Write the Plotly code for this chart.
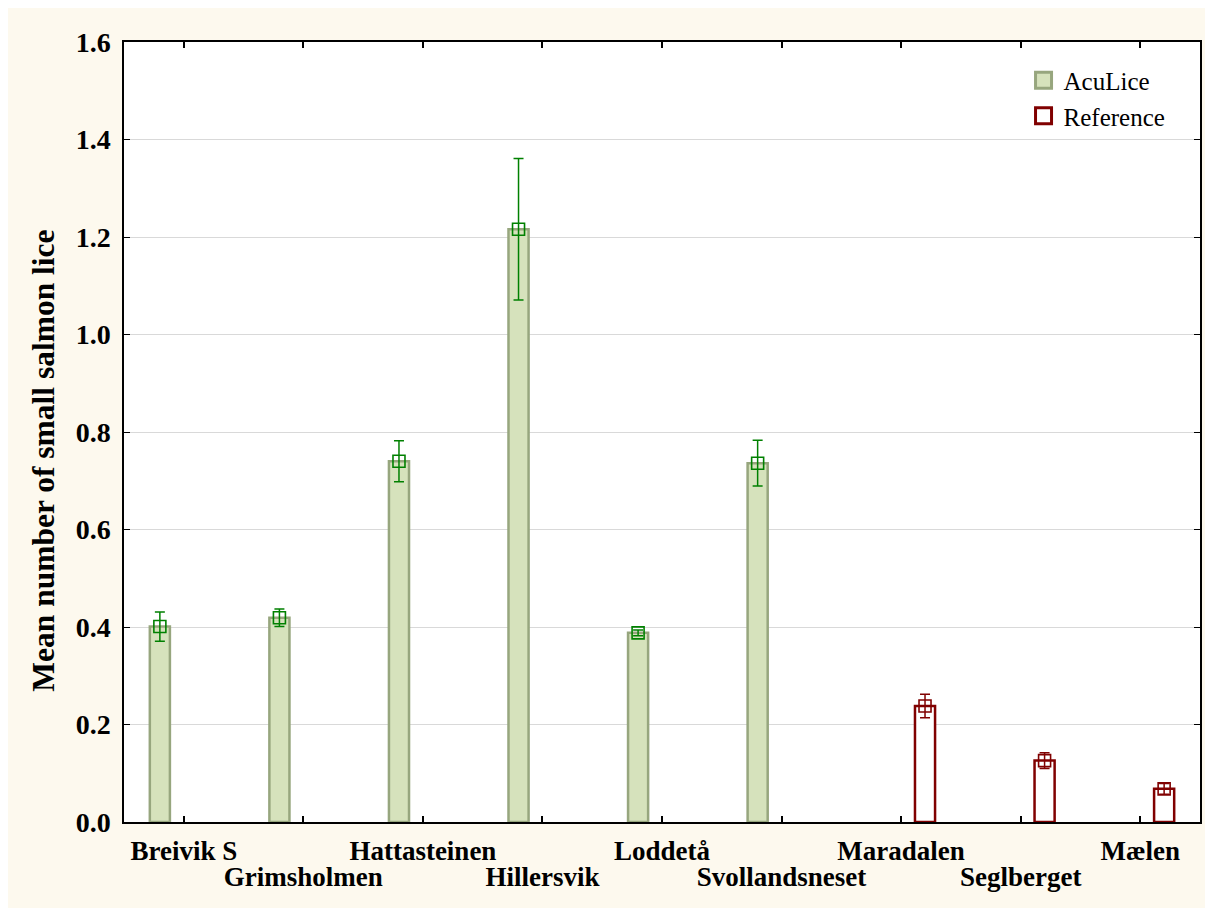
import plotly.graph_objects as go

sites = ["Breivik S", "Grimsholmen", "Hattasteinen", "Hillersvik", "Loddetå",
         "Svollandsneset", "Maradalen", "Seglberget", "Mælen"]
aculice_mean = [0.401, 0.419, 0.740, 1.216, 0.388, 0.736, None, None, None]
aculice_err = [0.030, 0.018, 0.042, 0.145, 0.006, 0.047, None, None, None]
reference_mean = [None, None, None, None, None, None, 0.238, 0.126, 0.068]
reference_err = [None, None, None, None, None, None, 0.024, 0.016, 0.011]
y_ticks = [0.0, 0.2, 0.4, 0.6, 0.8, 1.0, 1.2, 1.4, 1.6]
y_title = "Mean number of small salmon lice"

row1_idx = [i for i in range(len(sites)) if i % 2 == 0]
row2_idx = [i for i in range(len(sites)) if i % 2 == 1]

GREEN = "#008000"
GREEN_FILL = "#d6e2bc"
GREEN_EDGE = "#97a67e"
RED = "#800000"
FONT = "Liberation Serif"

fig = go.Figure()
fig.add_trace(go.Bar(
    x=sites, y=aculice_mean, name="AcuLice", offsetgroup="a", showlegend=False,
    marker=dict(color=GREEN_FILL, line=dict(color=GREEN_EDGE, width=2.5)),
))
fig.add_trace(go.Bar(
    x=sites, y=reference_mean, name="Reference", offsetgroup="b", showlegend=False,
    marker=dict(color="white", line=dict(color=RED, width=2.5)),
))
fig.add_trace(go.Scatter(
    x=sites, y=aculice_mean, mode="markers", offsetgroup="a", showlegend=False,
    marker=dict(symbol="square-open", size=12, color=GREEN, line=dict(width=1.6)),
    error_y=dict(type="data", array=aculice_err, color=GREEN, thickness=1.5, width=5),
))
fig.add_trace(go.Scatter(
    x=sites, y=reference_mean, mode="markers", offsetgroup="b", showlegend=False,
    marker=dict(symbol="square-open", size=12, color=RED, line=dict(width=1.6)),
    error_y=dict(type="data", array=reference_err, color=RED, thickness=1.5, width=5),
))
# legend-only entries
fig.add_trace(go.Scatter(
    x=[None], y=[None], mode="markers", name="AcuLice", offsetgroup="a",
    marker=dict(symbol="square", size=18, color=GREEN_FILL,
                line=dict(color=GREEN_EDGE, width=3)),
))
fig.add_trace(go.Scatter(
    x=[None], y=[None], mode="markers", name="Reference", offsetgroup="b",
    marker=dict(symbol="square", size=18, color="white",
                line=dict(color=RED, width=3)),
))

fig.update_layout(
    width=1213, height=908,
    margin=dict(l=116, r=21, t=34, b=94),
    paper_bgcolor="#fdf9ee",
    plot_bgcolor="white",
    barmode="group", bargap=0.2, bargroupgap=0.58,
    scattermode="group", scattergap=0.2,
    font=dict(family=FONT, color="black", size=20),
    legend=dict(x=0.836, y=0.98, xanchor="left", yanchor="top",
                bgcolor="rgba(0,0,0,0)", font=dict(size=25, family=FONT),
                itemsizing="trace", tracegroupgap=0),
    showlegend=True,
)
fig.update_xaxes(
    type="category", categoryorder="array", categoryarray=sites,
    tickmode="array", tickvals=[sites[i] for i in row1_idx],
    ticktext=[sites[i] for i in row1_idx], tickangle=0,
    tickfont=dict(size=27, family=FONT, weight="bold"),
    ticklabelstandoff=4,
    showline=True, linecolor="black", linewidth=1.5, mirror=True,
    ticks="", showgrid=False, automargin=False,
    range=[-0.5, 8.5],
)
# second row of category labels and the inside tick marks
fig.update_layout(xaxis2=dict(
    overlaying="x", anchor="y", side="bottom", range=[-0.5, 8.5],
    tickmode="array", tickvals=row2_idx,
    ticktext=[sites[i] for i in row2_idx], tickangle=0,
    tickfont=dict(size=27, family=FONT, weight="bold"),
    ticklabelstandoff=36, ticks="", showgrid=False, showline=False,
    zeroline=False, automargin=False,
))
fig.update_layout(xaxis3=dict(
    overlaying="x", anchor="y", side="bottom", range=[-0.5, 8.5],
    tickmode="array", tickvals=list(range(len(sites))), showticklabels=False,
    ticks="inside", ticklen=6, tickcolor="black", tickwidth=1.5,
    mirror="ticks", showline=True, linecolor="black", linewidth=1.5,
    showgrid=False, zeroline=False,
))
fig.add_trace(go.Scatter(x=[None], y=[None], xaxis="x2", showlegend=False, hoverinfo="skip"))
fig.add_trace(go.Scatter(x=[None], y=[None], xaxis="x3", showlegend=False, hoverinfo="skip"))

fig.update_yaxes(
    range=[0, 1.6], tickvals=y_ticks, ticktext=[f"{v:.1f}" for v in y_ticks],
    tickfont=dict(size=28, family=FONT, weight="bold"),
    ticklabelstandoff=6,
    showline=True, linecolor="black", linewidth=1.5, mirror="ticks",
    ticks="inside", ticklen=6, tickcolor="black",
    showgrid=True, gridcolor="#d9d9d9", gridwidth=1.2, zeroline=False,
    automargin=False,
)
fig.add_annotation(
    text=y_title, textangle=-90, xref="paper", yref="paper",
    x=-0.0745, y=0.463, xanchor="center", yanchor="middle", showarrow=False,
    font=dict(size=31.5, family=FONT, weight="bold", color="black"),
)

fig.write_html("out.html")
